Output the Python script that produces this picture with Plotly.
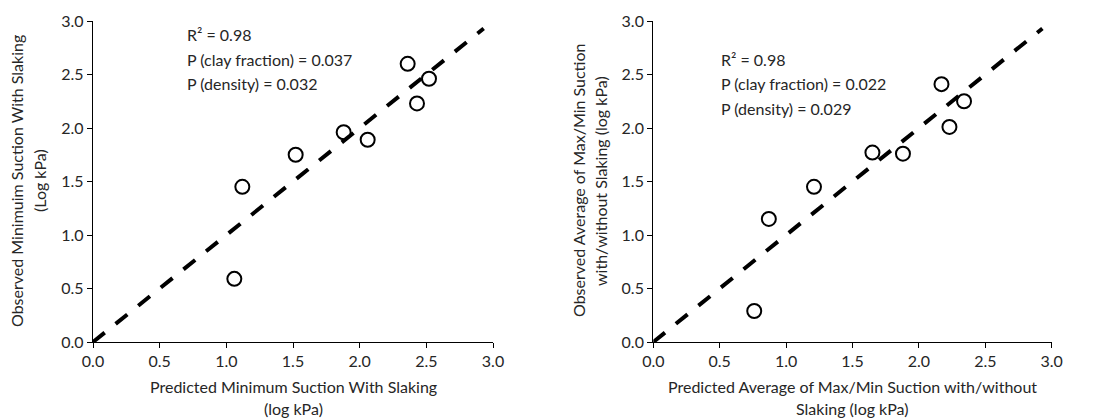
import plotly.graph_objects as go

# Left panel data
pred_min = [1.06, 1.12, 1.52, 1.88, 2.06, 2.36, 2.43, 2.52]
obs_min = [0.59, 1.45, 1.75, 1.96, 1.89, 2.60, 2.23, 2.46]
# Right panel data
pred_avg = [0.76, 0.87, 1.21, 1.65, 1.88, 2.17, 2.23, 2.34]
obs_avg = [0.29, 1.15, 1.45, 1.77, 1.76, 2.41, 2.01, 2.25]
one_to_one = [0.0, 2.93]
tick_vals = [0.0, 0.5, 1.0, 1.5, 2.0, 2.5, 3.0]
tick_text = ["0.0", "0.5", "1.0", "1.5", "2.0", "2.5", "3.0"]

stats_left = ["R² = 0.98", "P (clay fraction) = 0.037", "P (density) = 0.032"]
stats_right = ["R² = 0.98", "P (clay fraction) = 0.022", "P (density) = 0.029"]

FONT = "Lato"
FS = 16
TXT = "#262626"
W, H = 1099, 419

fig = go.Figure()

for xs, ys, xa, ya in [(pred_min, obs_min, "x", "y"), (pred_avg, obs_avg, "x2", "y2")]:
    fig.add_trace(go.Scatter(x=one_to_one, y=one_to_one, mode="lines", xaxis=xa, yaxis=ya,
                             line=dict(color="black", width=4, dash="15px,14px"),
                             showlegend=False, hoverinfo="skip", cliponaxis=False))
    fig.add_trace(go.Scatter(x=xs, y=ys, mode="markers", xaxis=xa, yaxis=ya,
                             marker=dict(symbol="circle-open", size=14, color="black",
                                         line=dict(width=2, color="black")),
                             showlegend=False, cliponaxis=False))

def px_x(p):
    return p / W

def px_y(p):
    return 1 - p / H

axis_common = dict(range=[0, 3], tickvals=tick_vals, ticktext=tick_text, showgrid=False,
                   zeroline=False, showline=True, linecolor="black", linewidth=1.3,
                   ticks="outside", ticklen=5, tickcolor="black", tickwidth=1.3,
                   tickfont=dict(family=FONT, size=FS, color=TXT), fixedrange=True,
                   automargin=False)

fig.update_layout(
    template="none",
    width=W, height=H,
    margin=dict(l=0, r=0, t=0, b=0, pad=0, autoexpand=False),
    paper_bgcolor="white", plot_bgcolor="white",
    xaxis=dict(domain=[px_x(93), px_x(493)], anchor="y", **axis_common),
    yaxis=dict(domain=[px_y(342), px_y(21)], anchor="x", **axis_common),
    xaxis2=dict(domain=[px_x(653.3), px_x(1051.7)], anchor="y2", **axis_common),
    yaxis2=dict(domain=[px_y(342), px_y(21)], anchor="x2", **axis_common),
)

anns = []
# stats text
for i, t in enumerate(stats_left):
    anns.append(dict(text=t, x=px_x(185), y=px_y(35 + 24 * i), xref="paper", yref="paper",
                     xanchor="left", yanchor="middle", showarrow=False,
                     font=dict(family=FONT, size=FS, color=TXT)))
for i, t in enumerate(stats_right):
    anns.append(dict(text=t, x=px_x(719), y=px_y(59 + 24.5 * i), xref="paper", yref="paper",
                     xanchor="left", yanchor="middle", showarrow=False,
                     font=dict(family=FONT, size=FS, color=TXT)))

# axis titles
def title(text, x, y, angle=0):
    anns.append(dict(text=text, x=px_x(x), y=px_y(y), xref="paper", yref="paper",
                     xanchor="center", yanchor="middle", showarrow=False, textangle=angle,
                     font=dict(family=FONT, size=FS, color=TXT)))

title("Predicted Minimum Suction With Slaking", 293, 386)
title("(log kPa)", 293, 408)
title("Observed Minimuim Suction With Slaking", 16, 181, -90)
title("(Log kPa)", 39, 181, -90)
title("Predicted Average of Max/Min Suction with/without", 852, 386)
title("Slaking (log kPa)", 852, 408)
title("Observed Average of Max/Min Suction", 578, 181, -90)
title("with/without Slaking (log kPa)", 600, 181, -90)

fig.update_layout(annotations=anns)
fig.write_html("out.html")
